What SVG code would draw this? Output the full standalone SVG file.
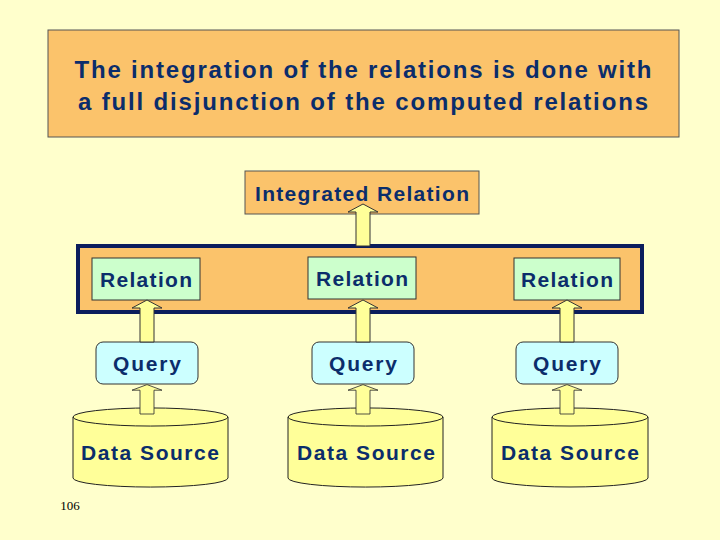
<svg xmlns="http://www.w3.org/2000/svg" width="720" height="540" viewBox="0 0 720 540">
<defs>
<style>
text{font-family:"Liberation Sans",Arial,sans-serif;fill:#0B2D6B;text-anchor:middle}
.t{font-size:24px;font-weight:bold}
.n{font-size:21px;font-weight:bold}
.rel{fill:#CCFFCC;stroke:#333;stroke-width:1}
.q{fill:#CCFFFF;stroke:#333;stroke-width:1}
.ds{fill:#FFFF99;stroke:#222;stroke-width:1}
.ar{fill:#FFFF99;stroke:#333;stroke-width:1}
</style>
<path id="arr" d="M-7,0 V-34 H-15 L0,-42 L15,-34 H7 V0 Z"/>
</defs>
<rect width="720" height="540" fill="#FFFFCC"/>
<g id="title">
<rect x="48" y="30" width="631" height="107" fill="#FBC36B" stroke="#555" stroke-width="1"/>
<text class="t" x="363" y="78" textLength="577" lengthAdjust="spacing">The integration of the relations is done with</text>
<text class="t" x="363" y="110" textLength="570" lengthAdjust="spacing">a full disjunction of the computed relations</text>
</g>
<g id="integrated">
<rect x="245" y="171" width="234" height="43" fill="#FBC36B" stroke="#555" stroke-width="1"/>
<text class="n" x="362" y="201" textLength="214" lengthAdjust="spacing">Integrated Relation</text>
</g>
<g id="outer"><rect x="78" y="246" width="564" height="66" fill="#FBC36B" stroke="#0B1D5C" stroke-width="4"/></g>
<g id="rel1"><rect class="rel" x="92" y="258" width="108" height="42"/><text class="n" x="146" y="287" textLength="92" lengthAdjust="spacing">Relation</text></g>
<g id="rel2"><rect class="rel" x="308" y="257" width="108" height="42"/><text class="n" x="362" y="286" textLength="92" lengthAdjust="spacing">Relation</text></g>
<g id="rel3"><rect class="rel" x="514" y="258" width="106" height="42"/><text class="n" x="567" y="287" textLength="92" lengthAdjust="spacing">Relation</text></g>
<g id="q1"><rect class="q" x="96" y="342" width="102" height="42" rx="7"/><text class="n" x="147" y="371" textLength="68" lengthAdjust="spacing">Query</text></g>
<g id="q2"><rect class="q" x="312" y="342" width="102" height="42" rx="7"/><text class="n" x="363" y="371" textLength="68" lengthAdjust="spacing">Query</text></g>
<g id="q3"><rect class="q" x="516" y="342" width="102" height="42" rx="7"/><text class="n" x="567" y="371" textLength="68" lengthAdjust="spacing">Query</text></g>
<g id="ds1"><path class="ds" d="M73,417 V478 A77,9 0 0 0 228,478 V417 A77,9 0 0 0 73,417 A77,9 0 0 0 228,417"/><text class="n" x="150" y="460" textLength="138" lengthAdjust="spacing">Data Source</text></g>
<g id="ds2"><path class="ds" d="M288,417 V478 A77,9 0 0 0 443,478 V417 A77,9 0 0 0 288,417 A77,9 0 0 0 443,417"/><text class="n" x="366" y="460" textLength="138" lengthAdjust="spacing">Data Source</text></g>
<g id="ds3"><path class="ds" d="M492,417 V478 A78,9 0 0 0 648,478 V417 A78,9 0 0 0 492,417 A78,9 0 0 0 648,417"/><text class="n" x="570" y="460" textLength="138" lengthAdjust="spacing">Data Source</text></g>
<g id="connectors">
<use href="#arr" class="ar" x="363" y="246"/>
<use href="#arr" class="ar" x="147" y="342"/>
<use href="#arr" class="ar" x="363" y="342"/>
<use href="#arr" class="ar" x="567" y="342"/>
<use href="#arr" class="ar" x="147" y="414" transform="translate(147,414) scale(1,0.7) translate(-147,-414)"/>
<use href="#arr" class="ar" x="363" y="414" transform="translate(363,414) scale(1,0.7) translate(-363,-414)"/>
<use href="#arr" class="ar" x="567" y="414" transform="translate(567,414) scale(1,0.7) translate(-567,-414)"/>
</g>
<text x="70" y="510" style="font-family:'Liberation Serif',serif;font-size:13px;fill:#000">106</text>
</svg>
